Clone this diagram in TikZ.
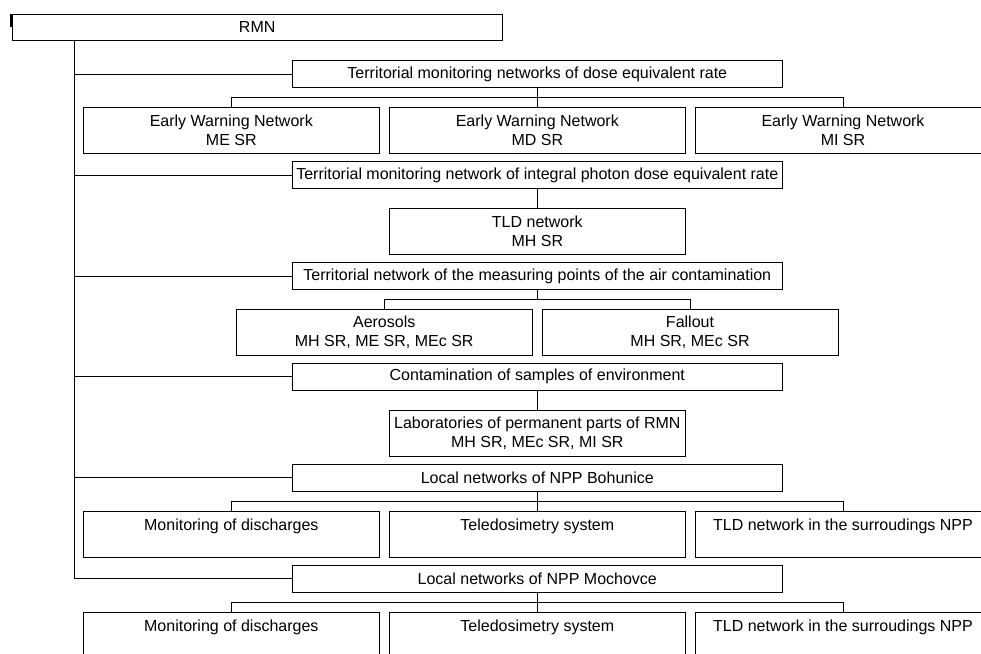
\documentclass[tikz,border=0pt]{standalone}
\usepackage{fontspec}
\setmainfont{Liberation Sans}
\begin{document}
\begin{tikzpicture}[x=0.75pt,y=-0.75pt,
  box/.style={draw=black, line width=0.75pt, inner sep=0pt, align=center,
    font=\fontsize{12}{14.5}\selectfont},
  widebox/.style={box, minimum width=367.5pt, minimum height=20pt},
  tallbox/.style={box, minimum width=222pt, minimum height=34.2pt},
  conn/.style={draw=black, line width=0.75pt}]
\clip (0,0) rectangle (981,653);
\fill[white] (0,0) rectangle (981,653);

% root
\node[box, minimum width=367.3pt, minimum height=19.7pt] (rmn) at (257.2,27.2) {RMN};
\draw[line width=1.1pt] (11,14) -- (11,27);

% level 1
\node[widebox] (d1) at (537.3,74) {Territorial monitoring networks of dose equivalent rate};
\node[widebox] (d2) at (537.3,175) {Territorial monitoring network of integral photon dose equivalent rate};
\node[widebox] (d3) at (537.3,276) {Territorial network of the measuring points of the air contamination};
\node[widebox] (d4) at (537.3,376.7) {Contamination of samples of environment};
\node[widebox] (d5) at (537.3,477.7) {Local networks of NPP Bohunice};
\node[widebox] (d6) at (537.3,578.7) {Local networks of NPP Mochovce};

% level 2
\node[tallbox] (ew1) at (231.3,130.5) {Early Warning Network\\ME SR};
\node[tallbox] (ew2) at (537.3,130.5) {Early Warning Network\\MD SR};
\node[tallbox] (ew3) at (843,130.5) {Early Warning Network\\MI SR};

\node[tallbox] (tld) at (537.3,231.5) {TLD network\\MH SR};

\node[tallbox] (aer) at (384.2,332.2) {Aerosols\\MH SR, ME SR, MEc SR};
\node[tallbox] (fal) at (690,332.2) {Fallout\\MH SR, MEc SR};

\node[tallbox] (lab) at (537.3,433.4) {Laboratories of permanent parts of RMN\\MH SR, MEc SR, MI SR};

\node[tallbox] (b1) at (231.3,534.5) {Monitoring of discharges\\~};
\node[tallbox] (b2) at (537.3,534.5) {Teledosimetry system\\~};
\node[tallbox] (b3) at (843,534.5) {TLD network in the surroudings NPP\\~};

\node[tallbox] (m1) at (231.3,635.5) {Monitoring of discharges\\~};
\node[tallbox] (m2) at (537.3,635.5) {Teledosimetry system\\~};
\node[tallbox] (m3) at (843,635.5) {TLD network in the surroudings NPP\\~};

% trunk
\coordinate (trunk) at (74,40.3);
\draw[conn] (trunk) |- (d6.west);
\foreach \n in {d1,d2,d3,d4,d5}
  \draw[conn] (trunk |- \n.west) -- (\n.west);

% sub branches
\draw[conn] (ew1.north) -- ++(0,-9.4) coordinate (bar1) -| (ew3.north);
\draw[conn] (d1.south) -- (d1.south |- bar1);
\draw[conn] (d1.south -| ew2.north) -- (ew2.north);

\draw[conn] (d2.south) -- (tld.north);

\draw[conn] (aer.north) -- ++(0,-9.3) coordinate (bar3) -| (fal.north);
\draw[conn] (d3.south) -- (d3.south |- bar3);

\draw[conn] (d4.south) -- (lab.north);

\draw[conn] (b1.north) -- ++(0,-9.7) coordinate (bar5) -| (b3.north);
\draw[conn] (d5.south) -- (b2.north);

\draw[conn] (m1.north) -- ++(0,-10) coordinate (bar6) -| (m3.north);
\draw[conn] (d6.south) -- (m2.north);
\end{tikzpicture}
\end{document}
